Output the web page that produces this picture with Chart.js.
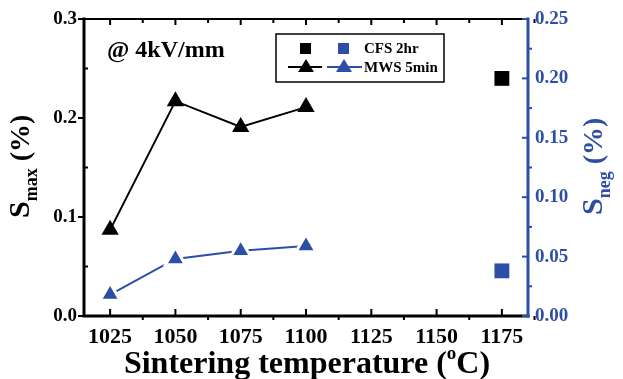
<!DOCTYPE html>
<html>
<head>
<meta charset="utf-8">
<script src="https://cdn.jsdelivr.net/npm/chart.js@4"></script>
<style>
  html, body { margin: 0; padding: 0; background: #fff; }
  #wrap { width: 623px; height: 379px; }
</style>
</head>
<body>
<div id="wrap"><canvas id="chart"></canvas></div>
<script>
// values
const mwsTemps = [1025, 1050, 1075, 1100];
const mwsMax = [0.087, 0.217, 0.191, 0.211];
const mwsNeg = [0.018, 0.048, 0.055, 0.059];
const cfsTemps = [1175];
const cfsMax = [0.24];
const cfsNeg = [0.038];
const xTicks = [1025, 1050, 1075, 1100, 1125, 1150, 1175];
const leftTicks = [0, 0.1, 0.2, 0.3];
const rightTicks = [0, 0.05, 0.1, 0.15, 0.2, 0.25];

const BLUE = '#2d4ea6';
const SERIF = '"Liberation Serif", "DejaVu Serif", serif';

function pts(xs, ys) {
  return xs.map((x, i) => ({ x: x, y: ys[i] }));
}

// draw a run of text pieces: [text, size, baselineShift]
function drawPieces(ctx, pieces, x, y, color) {
  ctx.fillStyle = color;
  ctx.textBaseline = 'alphabetic';
  ctx.textAlign = 'left';
  let cx = x;
  pieces.forEach(p => {
    ctx.font = 'bold ' + p[1] + 'px ' + SERIF;
    ctx.fillText(p[0], cx, y + p[2]);
    cx += ctx.measureText(p[0]).width;
  });
}

function piecesWidth(ctx, pieces) {
  let w = 0;
  pieces.forEach(p => {
    ctx.font = 'bold ' + p[1] + 'px ' + SERIF;
    w += ctx.measureText(p[0]).width;
  });
  return w;
}

const decor = {
  id: 'decor',
  afterDraw(chart) {
    const ctx = chart.ctx;
    const a = chart.chartArea;
    const xs = chart.scales.x, yl = chart.scales.y, yr = chart.scales.y1;
    ctx.save();

    // frame
    ctx.lineCap = 'square';
    ctx.strokeStyle = '#000';
    ctx.lineWidth = 2;
    ctx.beginPath(); ctx.moveTo(a.left, a.top); ctx.lineTo(a.right, a.top); ctx.stroke();
    ctx.lineWidth = 3;
    ctx.beginPath(); ctx.moveTo(a.left, a.top); ctx.lineTo(a.left, a.bottom); ctx.lineTo(a.right, a.bottom); ctx.stroke();
    ctx.strokeStyle = BLUE;
    ctx.beginPath(); ctx.moveTo(a.right, a.top); ctx.lineTo(a.right, a.bottom); ctx.stroke();

    // ticks
    ctx.lineCap = 'butt';
    ctx.lineWidth = 2;
    ctx.strokeStyle = '#000';
    xTicks.forEach((v, i) => {
      const px = xs.getPixelForValue(v);
      ctx.beginPath(); ctx.moveTo(px, a.bottom); ctx.lineTo(px, a.bottom - 7); ctx.stroke();
      ctx.beginPath(); ctx.moveTo(px, a.top); ctx.lineTo(px, a.top + 6); ctx.stroke();
      const m = xs.getPixelForValue(v + 12.5);
      ctx.beginPath(); ctx.moveTo(m, a.bottom); ctx.lineTo(m, a.bottom + 4); ctx.stroke();
      ctx.beginPath(); ctx.moveTo(m, a.top); ctx.lineTo(m, a.top + 4); ctx.stroke();
    });
    leftTicks.forEach(v => {
      const py = yl.getPixelForValue(v);
      ctx.beginPath(); ctx.moveTo(a.left, py); ctx.lineTo(a.left - 6, py); ctx.stroke();
      if (v < 0.3) {
        const m = yl.getPixelForValue(v + 0.05);
        ctx.beginPath(); ctx.moveTo(a.left, m); ctx.lineTo(a.left + 4, m); ctx.stroke();
      }
    });
    ctx.strokeStyle = BLUE;
    rightTicks.forEach(v => {
      const py = yr.getPixelForValue(v);
      ctx.beginPath(); ctx.moveTo(a.right, py); ctx.lineTo(a.right - 6, py); ctx.stroke();
      if (v < 0.25) {
        const m = yr.getPixelForValue(v + 0.025);
        ctx.beginPath(); ctx.moveTo(a.right, m); ctx.lineTo(a.right + 4, m); ctx.stroke();
      }
    });

    // axis titles
    const bottomTitle = [['Sintering temperature (', 32, 0], ['o', 19, -14], ['C)', 32, 0]];
    const bw = piecesWidth(ctx, bottomTitle);
    drawPieces(ctx, bottomTitle, (a.left + a.right) / 2 - bw / 2 + 1, 373, '#000');

    const leftTitle = [['S', 30, 0], ['max', 18, 8], [' (%)', 28, 0]];
    ctx.save();
    ctx.translate(29, 218);
    ctx.rotate(-Math.PI / 2);
    drawPieces(ctx, leftTitle, 0, 0, '#000');
    ctx.restore();

    const rightTitle = [['S', 30, 0], ['neg', 18, 8], [' (%)', 28, 0]];
    ctx.save();
    ctx.translate(602, 215);
    ctx.rotate(-Math.PI / 2);
    drawPieces(ctx, rightTitle, 0, 0, BLUE);
    ctx.restore();

    // annotation
    drawPieces(ctx, [['@ 4kV/mm', 24, 0]], 107, 57, '#000');

    // legend
    ctx.lineWidth = 1.5;
    ctx.strokeStyle = '#000';
    ctx.strokeRect(276, 34, 168, 48);
    ctx.fillStyle = '#000';
    ctx.fillRect(300, 43, 11, 11);
    ctx.fillStyle = BLUE;
    ctx.fillRect(338, 43, 11, 11);
    ctx.lineWidth = 2;
    ctx.strokeStyle = '#000';
    ctx.beginPath(); ctx.moveTo(288, 67); ctx.lineTo(322, 67); ctx.stroke();
    ctx.strokeStyle = BLUE;
    ctx.beginPath(); ctx.moveTo(327, 67); ctx.lineTo(362, 67); ctx.stroke();
    [[306, '#000'], [344, BLUE]].forEach(t => {
      ctx.fillStyle = t[1];
      ctx.beginPath();
      ctx.moveTo(t[0], 59); ctx.lineTo(t[0] + 8, 72); ctx.lineTo(t[0] - 8, 72);
      ctx.closePath(); ctx.fill();
    });
    drawPieces(ctx, [['CFS 2hr', 15, 0]], 364, 53, '#000');
    drawPieces(ctx, [['MWS 5min', 15, 0]], 364, 72, '#000');

    ctx.restore();
  }
};

new Chart(document.getElementById('chart'), {
  type: 'scatter',
  data: {
    datasets: [
      {
        label: 'MWS 5min max', data: pts(mwsTemps, mwsMax), yAxisID: 'y',
        showLine: true, borderColor: '#000', backgroundColor: '#000', borderWidth: 2,
        pointStyle: 'triangle', pointRadius: 10, pointBorderWidth: 0
      },
      {
        label: 'MWS 5min neg', data: pts(mwsTemps, mwsNeg), yAxisID: 'y1',
        showLine: true, borderColor: BLUE, backgroundColor: BLUE, borderWidth: 2,
        pointStyle: 'triangle', pointRadius: 11.5, pointBorderWidth: 3, pointBorderColor: '#fff'
      },
      {
        label: 'CFS 2hr max', data: pts(cfsTemps, cfsMax), yAxisID: 'y',
        borderColor: '#000', backgroundColor: '#000',
        pointStyle: 'rect', pointRadius: 10.5, pointBorderWidth: 0
      },
      {
        label: 'CFS 2hr neg', data: pts(cfsTemps, cfsNeg), yAxisID: 'y1',
        borderColor: BLUE, backgroundColor: BLUE,
        pointStyle: 'rect', pointRadius: 10.5, pointBorderWidth: 0
      }
    ]
  },
  options: {
    responsive: true,
    maintainAspectRatio: false,
    animation: false,
    layout: { padding: { top: 19, left: 0, right: 0, bottom: 0 } },
    plugins: { legend: { display: false }, tooltip: { enabled: false } },
    scales: {
      x: {
        type: 'linear', min: 1015, max: 1185,
        afterBuildTicks: s => { s.ticks = xTicks.map(v => ({ value: v })); },
        afterFit: s => { s.height = 63; },
        grid: { display: false, drawTicks: false },
        border: { display: false },
        ticks: { color: '#000', padding: 8, maxRotation: 0, callback: v => String(v), font: { family: SERIF, size: 22, weight: 'bold' } }
      },
      y: {
        position: 'left', min: 0, max: 0.3,
        afterBuildTicks: s => { s.ticks = leftTicks.map(v => ({ value: v })); },
        afterFit: s => { s.width = 84; },
        grid: { display: false, drawTicks: false },
        border: { display: false },
        ticks: { color: '#000', padding: 7, callback: v => v.toFixed(1), font: { family: SERIF, size: 19, weight: 'bold' } }
      },
      y1: {
        position: 'right', min: 0, max: 0.25,
        afterBuildTicks: s => { s.ticks = rightTicks.map(v => ({ value: v })); },
        afterFit: s => { s.width = 95; },
        grid: { display: false, drawTicks: false },
        border: { display: false },
        ticks: { color: BLUE, padding: 7, callback: v => v.toFixed(2), font: { family: SERIF, size: 19, weight: 'bold' } }
      }
    }
  },
  plugins: [decor]
});
</script>
</body>
</html>
